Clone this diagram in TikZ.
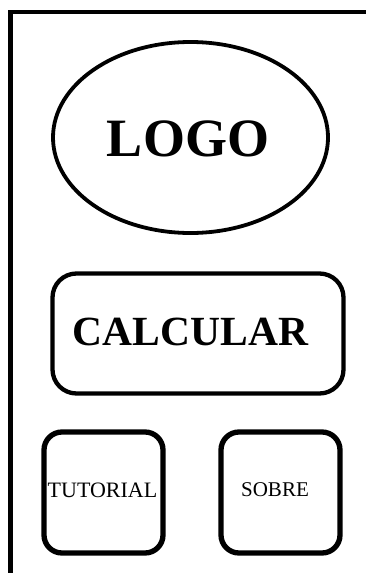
\documentclass[tikz,border=0pt]{standalone}
\usepackage{fontspec}
\setmainfont{Liberation Serif}
\usetikzlibrary{shapes.geometric}
\tikzset{
  logoshape/.style={draw, ellipse, line width=3.8pt, minimum width=275pt, minimum height=191pt, inner sep=0pt},
  bigbtn/.style={draw, rectangle, rounded corners=24pt, line width=4.3pt, minimum width=291pt, minimum height=120pt, inner sep=0pt},
  smallbtn/.style={draw, rectangle, rounded corners=18pt, line width=5.3pt, minimum width=119pt, minimum height=121pt, inner sep=0pt},
}
\begin{document}
\begin{tikzpicture}[x=1pt, y=-1pt]
\useasboundingbox (0,0) rectangle (366,573);
\coordinate (ftr) at (368,12);
\coordinate (ftl) at (8,12);
\coordinate (fbl) at (10.7,575);
\coordinate (ftl2) at (10.7,10);
\draw[line width=3.8pt] (ftl) -- (ftr);
\draw[line width=5.5pt] (ftl2) -- (fbl);
\node[logoshape] (logo) at (190.5,137.5) {};
\node[font=\fontsize{54}{60}\selectfont\bfseries] (logotext) at (188,139) {LOGO};
\node[bigbtn] (calc) at (198,333.5) {};
\node[font=\fontsize{41.5}{48}\selectfont\bfseries] (calctext) at (190.5,331.5) {CALCULAR};
\node[smallbtn] (tut) at (103.5,492.5) {};
\node[font=\fontsize{22}{26}\selectfont] (tuttext) at (102.5,490) {TUTORIAL};
\node[smallbtn] (sobre) at (280.5,492.5) {};
\node[font=\fontsize{21}{25}\selectfont] (sobretext) at (275,490) {SOBRE};
\end{tikzpicture}
\end{document}
